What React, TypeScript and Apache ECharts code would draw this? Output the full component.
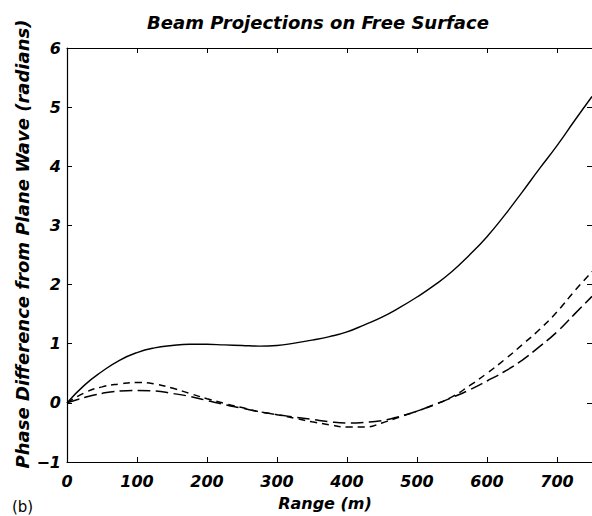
import React, { useEffect, useRef } from "react";
import * as echarts from "echarts";

const rangeM = [0, 25, 50, 75, 100, 125, 150, 175, 200, 225, 250, 275, 300, 325, 350, 375, 400, 425, 450, 475, 500, 525, 550, 575, 600, 625, 650, 675, 700, 725, 750];
const solidPhase = [0, 0.3, 0.53, 0.72, 0.85, 0.93, 0.97, 0.99, 0.99, 0.98, 0.97, 0.96, 0.97, 1.01, 1.06, 1.12, 1.2, 1.32, 1.45, 1.61, 1.79, 1.99, 2.22, 2.5, 2.81, 3.17, 3.56, 3.96, 4.35, 4.77, 5.18];
const shortDashPhase = [0, 0.17, 0.27, 0.32, 0.345, 0.32, 0.25, 0.16, 0.07, -0.01, -0.08, -0.15, -0.2, -0.26, -0.32, -0.37, -0.41, -0.41, -0.34, -0.24, -0.14, -0.03, 0.1, 0.29, 0.5, 0.73, 0.98, 1.24, 1.54, 1.89, 2.22];
const longDashPhase = [0, 0.09, 0.16, 0.2, 0.21, 0.2, 0.16, 0.11, 0.04, -0.03, -0.09, -0.15, -0.2, -0.24, -0.28, -0.32, -0.34, -0.33, -0.3, -0.23, -0.14, -0.03, 0.09, 0.22, 0.37, 0.53, 0.72, 0.95, 1.2, 1.5, 1.8];

const xTickLabels = ["0", "100", "200", "300", "400", "500", "600", "700"];
const yTickLabels = ["\u22121", "0", "1", "2", "3", "4", "5", "6"];

const titleText = "Beam Projections on Free Surface";
const xName = "Range (m)";
const yName = "Phase Difference from Plane Wave (radians)";
const panelTag = "(b)";

const FONT = "DejaVu Sans";

export default function App() {
  const ref = useRef<HTMLDivElement>(null);
  useEffect(() => {
    if (!ref.current) return;
    const chart = echarts.init(ref.current, null, { renderer: "svg" });
    const pairs = (ys: number[]) => rangeM.map((x, i) => [x, ys[i]]);
    const labelStyle = {
      color: "#000",
      fontFamily: FONT,
      fontWeight: "bold" as const,
      fontStyle: "italic" as const,
      fontSize: 16,
    };
    const axisLine = { show: true, onZero: false, lineStyle: { color: "#000", width: 1.2 } };
    const tick = { show: true, inside: true, length: 5, lineStyle: { color: "#000", width: 1 } };
    chart.setOption({
      animation: false,
      backgroundColor: "#fff",
      grid: { left: 67, right: 0, top: 48, bottom: 54 },
      xAxis: [
        {
          type: "value",
          min: 0,
          max: 750,
          interval: 100,
          position: "bottom",
          axisLine,
          axisTick: tick,
          splitLine: { show: false },
          axisLabel: {
            ...labelStyle,
            margin: 11,
            showMaxLabel: false,
            formatter: (v: number) => {
              const i = Math.round(v / 100);
              return v % 100 === 0 && i < xTickLabels.length ? xTickLabels[i] : "";
            },
          },
        },
        {
          type: "value",
          min: 0,
          max: 750,
          interval: 100,
          position: "top",
          axisLine,
          axisTick: tick,
          splitLine: { show: false },
          axisLabel: { show: false },
        },
      ],
      yAxis: [
        {
          type: "value",
          min: -1,
          max: 6,
          interval: 1,
          position: "left",
          axisLine,
          axisTick: tick,
          splitLine: { show: false },
          axisLabel: {
            ...labelStyle,
            margin: 6,
            formatter: (v: number) => yTickLabels[Math.round(v) + 1] ?? "",
          },
        },
        {
          type: "value",
          min: -1,
          max: 6,
          interval: 1,
          position: "right",
          axisLine: { show: false, onZero: false },
          axisTick: tick,
          splitLine: { show: false },
          axisLabel: { show: false },
        },
      ],
      series: [
        {
          type: "line",
          name: "solid",
          data: pairs(solidPhase),
          smooth: true,
          showSymbol: false,
          lineStyle: { color: "#000", width: 1.4, type: "solid" },
        },
        {
          type: "line",
          name: "short dash",
          data: pairs(shortDashPhase),
          smooth: true,
          showSymbol: false,
          lineStyle: { color: "#000", width: 1.5, type: [7, 5] },
        },
        {
          type: "line",
          name: "long dash",
          data: pairs(longDashPhase),
          smooth: true,
          showSymbol: false,
          lineStyle: { color: "#000", width: 1.5, type: [13, 5] },
        },
      ],
      graphic: [
        {
          type: "text",
          x: 318,
          y: 22,
          style: {
            text: titleText,
            fill: "#000",
            font: `italic bold 18px "${FONT}"`,
            align: "center",
            verticalAlign: "middle",
          },
        },
        {
          type: "text",
          x: 22,
          y: 244,
          rotation: Math.PI / 2,
          style: {
            text: yName,
            fill: "#000",
            font: `italic bold 18px "${FONT}"`,
            align: "center",
            verticalAlign: "middle",
          },
        },
        {
          type: "text",
          x: 325,
          y: 503,
          style: {
            text: xName,
            fill: "#000",
            font: `italic bold 16px "${FONT}"`,
            align: "center",
            verticalAlign: "middle",
          },
        },
        {
          type: "text",
          x: 12,
          y: 499,
          style: {
            text: panelTag,
            fill: "#000",
            font: `15px "${FONT}"`,
            align: "left",
            verticalAlign: "top",
          },
        },
      ],
    });
    return () => chart.dispose();
  }, []);
  return (
    <div
      ref={ref}
      style={{ position: "absolute", left: 0, top: 0, width: 592, height: 516 }}
    />
  );
}
